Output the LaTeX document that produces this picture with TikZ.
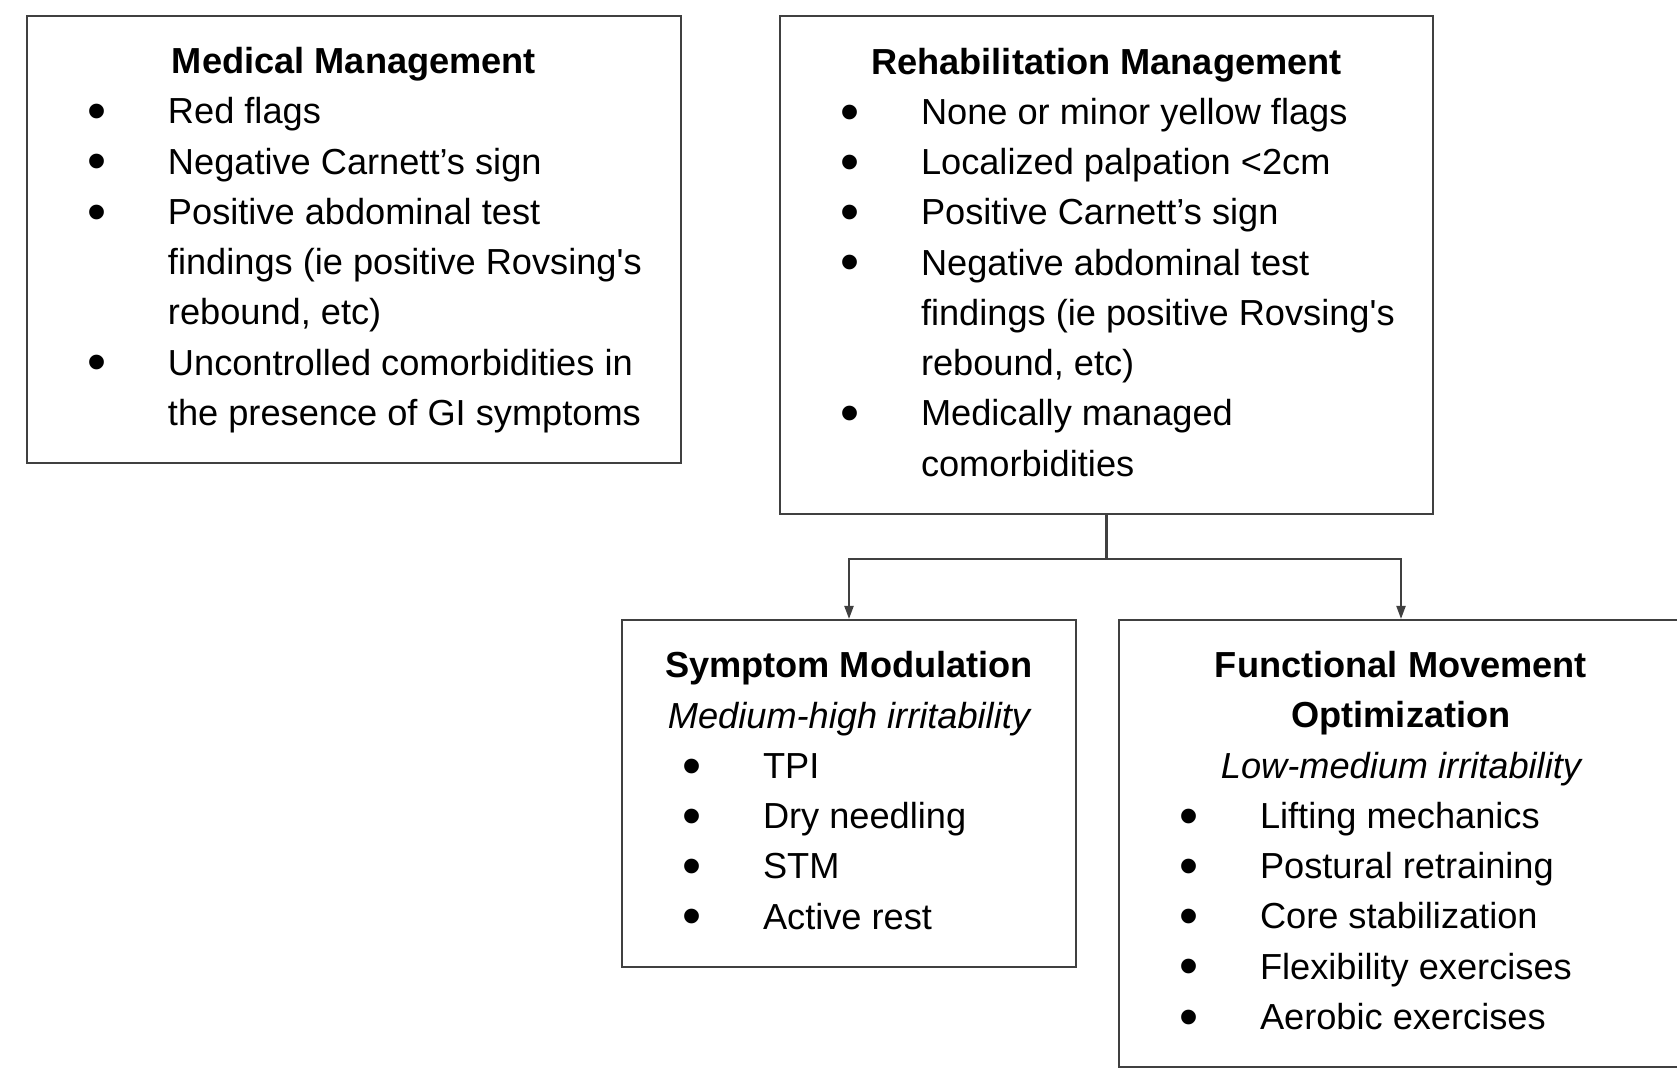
\documentclass[tikz,border=0pt]{standalone}
\usepackage{fontspec}
\setmainfont{Liberation Sans}
\usepackage{array}
\usetikzlibrary{arrows.meta}

\tikzset{
  panel/.style={draw=black!75, line width=1.2pt, rectangle, inner sep=0pt, minimum height=#1},
  link/.style={line width=1.2pt, draw=black!75},
}
\newcommand{\bul}{\hspace*{1.2cm}\raisebox{-0.16em}{\scalebox{1.5}{\textbullet}}}

\begin{document}
\begin{tikzpicture}[>={Triangle[length=0.26cm,width=0.18cm]}, font=\fontsize{20.6pt}{28.6pt}\selectfont]
\useasboundingbox (0,0) rectangle (33.54,-21.48);

\node[panel=8.94cm] (med) at (7.08,-4.79) {\begin{tabular}{@{}p{2.82cm}@{}p{10.26cm}@{}}
\multicolumn{2}{@{}c@{}}{\bfseries Medical Management}\\
\bul & Red flags\\
\bul & Negative Carnett’s sign\\
\bul & Positive abdominal test\\
     & findings (ie positive Rovsing\textquotesingle s\\
     & rebound, etc)\\
\bul & Uncontrolled comorbidities in\\
     & the presence of GI symptoms
\end{tabular}};

\node[panel=9.96cm] (rehab) at (22.13,-5.30) {\begin{tabular}{@{}p{2.82cm}@{}p{10.24cm}@{}}
\multicolumn{2}{@{}c@{}}{\bfseries Rehabilitation Management}\\
\bul & None or minor yellow flags\\
\bul & Localized palpation <2cm\\
\bul & Positive Carnett’s sign\\
\bul & Negative abdominal test\\
     & findings (ie positive Rovsing\textquotesingle s\\
     & rebound, etc)\\
\bul & Medically managed\\
     & comorbidities
\end{tabular}};

\node[panel=6.94cm] (sym) at (16.98,-15.87) {\begin{tabular}{@{}p{2.82cm}@{}p{6.26cm}@{}}
\multicolumn{2}{@{}c@{}}{\bfseries Symptom Modulation}\\
\multicolumn{2}{@{}c@{}}{\itshape Medium-high irritability}\\
\bul & TPI\\
\bul & Dry needling\\
\bul & STM\\
\bul & Active rest
\end{tabular}};

\node[panel=8.94cm] (fun) at (28.02,-16.87) {\begin{tabular}{@{}p{2.82cm}@{}p{8.46cm}@{}}
\multicolumn{2}{@{}c@{}}{\bfseries Functional Movement}\\
\multicolumn{2}{@{}c@{}}{\bfseries Optimization}\\
\multicolumn{2}{@{}c@{}}{\itshape Low-medium irritability}\\
\bul & Lifting mechanics\\
\bul & Postural retraining\\
\bul & Core stabilization\\
\bul & Flexibility exercises\\
\bul & Aerobic exercises
\end{tabular}};

\coordinate (split) at ([yshift=-0.88cm]rehab.south);
\draw[link] (rehab.south) -- (split);
\draw[->, link] (split) -| (sym.north);
\draw[->, link] (split) -| (fun.north);
\end{tikzpicture}
\end{document}
